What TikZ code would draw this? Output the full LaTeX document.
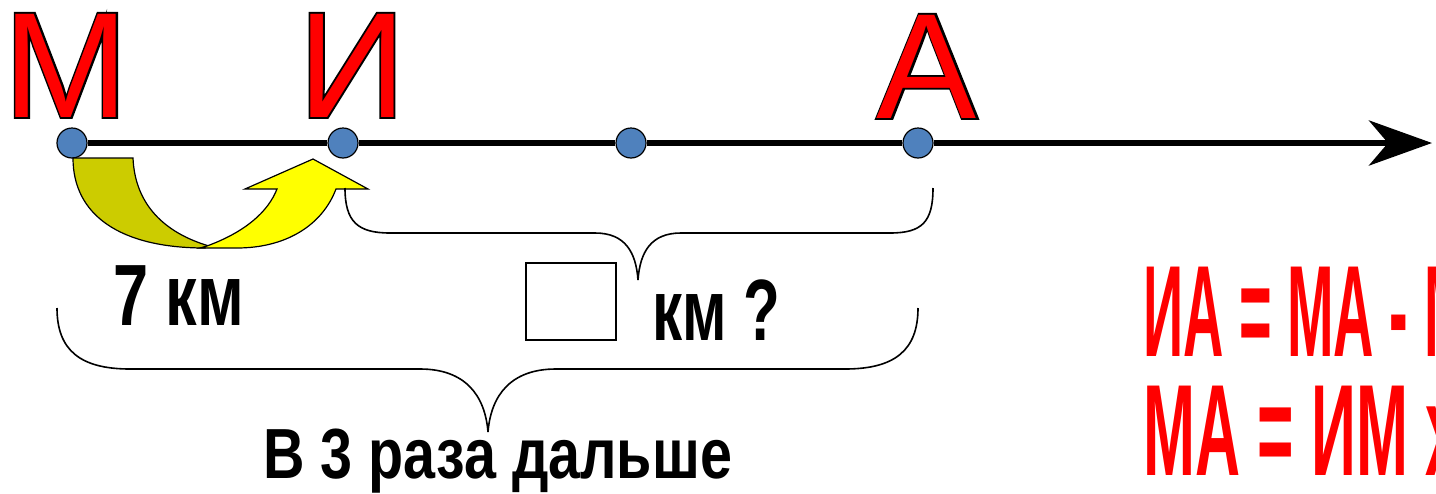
\documentclass[tikz,border=0pt]{standalone}
\usepackage{fontspec}
\setmainfont{Liberation Sans}
\newfontfamily\rimfont[FakeBold=2.5]{Liberation Sans}
\usetikzlibrary{arrows.meta}
\definecolor{dotblue}{HTML}{4F81BD}
\definecolor{jumpdark}{HTML}{CCCC00}
\definecolor{jumplight}{HTML}{FFFF00}
\newcommand\redletter[1]{\makebox[0pt]{\rimfont\textcolor{black}{#1}}\makebox[0pt]{\textcolor{red}{#1}}}
\tikzset{
  point/.style={circle,draw=black,fill=dotblue,minimum size=30pt,inner sep=0pt,line width=1.2pt},
  townletter/.style={inner sep=0pt,anchor=base,font=\fontsize{150}{150}\selectfont},
  kmtext/.style={inner sep=0pt,anchor=base west,font=\fontsize{87}{87}\selectfont\bfseries},
  eqtext/.style={inner sep=0pt,anchor=base west,text=red,font=\fontsize{130}{130}\selectfont\bfseries},
  axis/.style={line width=6.5pt},
  bracket/.style={line width=1.6pt}
}
\begin{document}
\begin{tikzpicture}[x=1pt,y=-1pt]
\useasboundingbox (0,0) rectangle (1436,493);
%\draw[step=50,gray,very thin] (0,0) grid (1436,493); %background grid
\node[point] (M)   at (72,143)  {};
\node[point] (I)   at (343,143) {};
\node[point] (mid) at (631,143) {};
\node[point] (A)   at (918,143) {};
\coordinate (end) at (1432,143);
\draw[axis] (M) -- (I);
\draw[axis] (I) -- (mid);
\draw[axis] (mid) -- (A);
\draw[axis,-{Stealth[length=63pt,width=45pt,inset=19pt]}] (A) -- (end);
%---------------------------------------------------
\node[townletter] (lM) at (66,117)  {\redletter{М}};
\node[townletter] (lI) at (352,117) {\redletter{И}};
\node[townletter] (lA) at (927,118) {\redletter{А}};
%---------------------------------------------------
\draw[black,line width=1.2pt,fill=jumpdark] (73,158) -- (133,158)
  .. controls (135,205) and (165,233) .. (209,246) -- (205,248)
  .. controls (120,248) and (73,215) .. (73,158) -- cycle;
\draw[black,line width=1.2pt,fill=jumplight] (207,246)
  .. controls (245,232) and (268,212) .. (277,189) -- (245,189) -- (313,159)
  -- (368,189) -- (336,189) .. controls (322,226) and (285,248) .. (237,248)
  -- (200,248) -- cycle;
%---------------------------------------------------
\draw[bracket] (345,188) .. controls (345,222) and (358,233) .. (390,233) -- (595,233)
  .. controls (625,233) and (636,252) .. (638,280)
  .. controls (640,252) and (651,233) .. (681,233) -- (890,233)
  .. controls (922,233) and (933,222) .. (933,188);
\draw[bracket] (57,308) .. controls (57,350) and (80,369) .. (130,369) -- (420,369)
  .. controls (465,369) and (485,395) .. (488,432)
  .. controls (491,395) and (511,369) .. (556,369) -- (845,369)
  .. controls (895,369) and (918,350) .. (918,308);
%---------------------------------------------------
\node[kmtext] (seven) at (113,325) {\resizebox{131pt}{\height}{7 км}};
\node[draw,line width=1.5pt,minimum width=90pt,minimum height=77pt,inner sep=0pt] (box) at (571,301.5) {};
\node[kmtext] (ask) at (652,340) {\resizebox{128pt}{\height}{км ?}};
\node[kmtext,font=\fontsize{71}{71}\selectfont\bfseries] (far) at (263,478) {\resizebox{469pt}{\height}{В 3 раза дальше}};
%---------------------------------------------------
\begin{scope}
\clip (0,0) rectangle (1436,493);
\node[eqtext] (eqone) at (1143,356) {\scalebox{0.43}[1]{ИА = МА - МИ}};
\node[eqtext] (eqtwo) at (1143,475) {\scalebox{0.48}[1]{МА = ИМ х 3}};
\end{scope}
\end{tikzpicture}
\end{document}
